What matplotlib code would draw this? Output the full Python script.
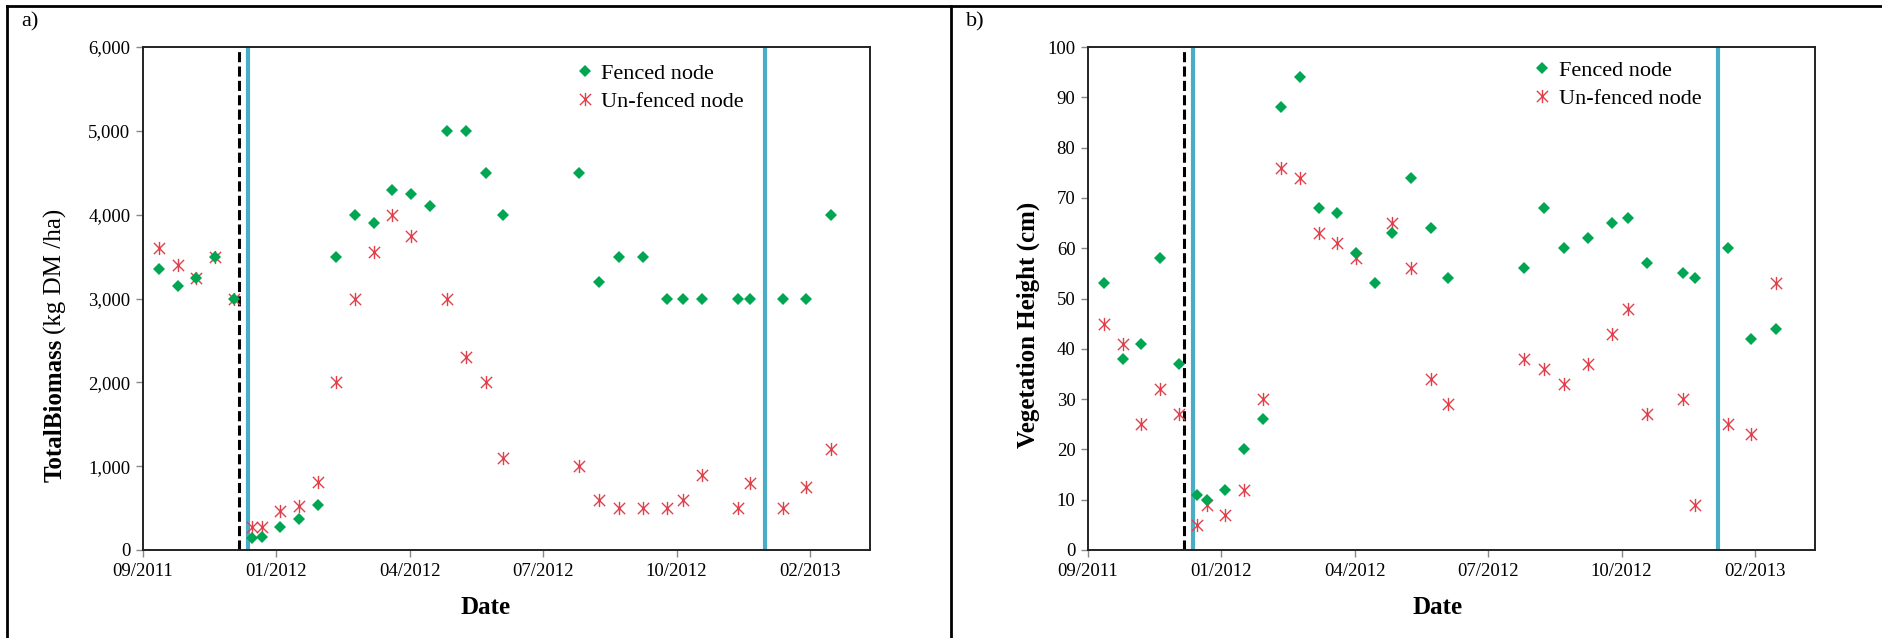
import numpy as np
import pandas as pd
import matplotlib
matplotlib.use('Agg')
import matplotlib.pyplot as plt
import matplotlib.dates as mdates
from matplotlib.path import Path
from matplotlib.lines import Line2D
from matplotlib.ticker import FuncFormatter, MultipleLocator

plt.rcParams['font.family'] = ['Liberation Serif', 'DejaVu Serif']

# 측정 날짜
dates = ['2011-10-07', '2011-10-21', '2011-11-04', '2011-11-18', '2011-12-02',
         '2011-12-16', '2011-12-23', '2012-01-06', '2012-01-20', '2012-02-03',
         '2012-02-17', '2012-03-02', '2012-03-16', '2012-03-30', '2012-04-13',
         '2012-04-27', '2012-05-10', '2012-05-24', '2012-06-08', '2012-06-21',
         '2012-08-17', '2012-09-01', '2012-09-16', '2012-10-04', '2012-10-22',
         '2012-11-03', '2012-11-17', '2012-12-14', '2012-12-23', '2013-01-17',
         '2013-02-03', '2013-02-22']

# a) 총 바이오매스 (kg DM/ha)
biomass_fenced = [3350, 3150, 3250, 3500, 3000, 140, 160, 270, 370, 540,
                  3500, 4000, 3900, 4300, 4250, 4100, 5000, 5000, 4500, 4000,
                  4500, 3200, 3500, 3500, 3000, 3000, 3000, 3000, 3000, 3000,
                  3000, 4000]
biomass_unfenced = [3600, 3400, 3250, 3500, 3000, 280, 280, 470, 520, 810,
                    2000, 3000, 3550, 4000, 3750, np.nan, 3000, 2300, 2000, 1100,
                    1000, 600, 500, 500, 500, 600, 900, 500, 800, 500,
                    750, 1200]

# b) 식생 높이 (cm)
height_fenced = [53, 38, 41, 58, 37, 11, 10, 12, 20, 26,
                 88, 94, 68, 67, 59, 53, 63, 74, 64, 54,
                 56, 68, 60, 62, 65, 66, 57, 55, 54, 60,
                 42, 44]
height_unfenced = [45, 41, 25, 32, 27, 5, 9, 7, 12, 30,
                   76, 74, 63, 61, 58, np.nan, 65, 56, 34, 29,
                   38, 36, 33, 37, 43, 48, 27, 30, 9, 25,
                   23, 53]

# 이벤트 날짜 (점선: 1개, 파란 실선: 2개)
dashed_date = '2011-12-06'
biomass_blue_dates = ['2011-12-13', '2013-01-03']
height_blue_dates = ['2011-12-13', '2013-01-09']

# x축 범위와 눈금 (100일 간격)
x_start, x_end = '2011-09-25', '2013-03-23'
tick_dates = ['2011-09-25', '2012-01-03', '2012-04-12', '2012-07-21',
              '2012-10-29', '2013-02-06']

x = pd.to_datetime(dates)

green = '#00A651'
red = '#E0404A'
blue = '#4BACC6'

# 엑셀 스타일 별표 마커 (X + 세로선)
star = Path([(0, -1), (0, 1), (-0.85, -0.85), (0.85, 0.85), (-0.85, 0.85), (0.85, -0.85)],
            [Path.MOVETO, Path.LINETO, Path.MOVETO, Path.LINETO, Path.MOVETO, Path.LINETO])

W, H = 1883, 638
fig = plt.figure(figsize=(W / 100, H / 100), dpi=100)


def px_box(left, top, right, bottom):
    return [left / W, 1 - bottom / H, (right - left) / W, (bottom - top) / H]


def draw_panel(ax, fenced, unfenced, blue_dates, ymax, ystep, comma):
    ax.axvline(pd.to_datetime(dashed_date), color='black', lw=2.2,
               linestyle=(0, (3.3, 1.4)), zorder=1)
    for d in blue_dates:
        ax.axvline(pd.to_datetime(d), color=blue, lw=3, zorder=1)

    ax.plot(x, unfenced, linestyle='none', marker=star, markersize=9.5,
            markeredgewidth=1.0, color=red, label='Un-fenced node', zorder=3)
    ax.plot(x, fenced, linestyle='none', marker='D', markersize=6,
            color=green, markeredgewidth=0, label='Fenced node', zorder=4)

    ax.set_xlim(pd.to_datetime(x_start), pd.to_datetime(x_end))
    ax.set_xticks(pd.to_datetime(tick_dates))
    ax.xaxis.set_major_formatter(mdates.DateFormatter('%m/%Y'))
    ax.set_ylim(0, ymax)
    ax.yaxis.set_major_locator(MultipleLocator(ystep))
    if comma:
        ax.yaxis.set_major_formatter(FuncFormatter(lambda v, p: f'{int(v):,}'))

    ax.tick_params(axis='both', direction='out', length=5, width=1,
                   color='#888888', labelsize=13.5, pad=4)
    for s in ax.spines.values():
        s.set_color('#222222')
        s.set_linewidth(1.4)

    handles, labels = ax.get_legend_handles_labels()
    return handles[::-1], labels[::-1]


legend_kw = dict(loc='upper left', frameon=False, fontsize=16, handlelength=0.5,
                 handletextpad=0.5, labelspacing=0.35, borderpad=0, borderaxespad=0)

# a) 패널
ax1 = fig.add_axes(px_box(143, 47, 870, 550))
h, l = draw_panel(ax1, biomass_fenced, biomass_unfenced, biomass_blue_dates, 6000, 1000, True)
ax1.legend(h, l, bbox_to_anchor=(0.600, 0.968), **legend_kw)

# b) 패널
ax2 = fig.add_axes(px_box(1088, 47, 1815, 550))
h, l = draw_panel(ax2, height_fenced, height_unfenced, height_blue_dates, 100, 10, False)
ax2.legend(h, l, bbox_to_anchor=(0.617, 0.974), **legend_kw)

# 축 제목
fig.text(486 / W, 1 - 608 / H, 'Date', fontsize=18, fontweight='bold', ha='center', va='center')
fig.text(1438 / W, 1 - 607 / H, 'Date', fontsize=18, fontweight='bold', ha='center', va='center')

# y축 제목: 굵은 글씨 + 보통 글씨를 이어 붙임
bold_part = fig.text(55 / W, 1 - 482 / H, 'TotalBiomass', fontsize=18, fontweight='bold',
                     rotation=90, ha='center', va='bottom')
fig.canvas.draw()
bb = bold_part.get_window_extent().transformed(fig.transFigure.inverted())
fig.text(55 / W, bb.y1 + 5 / H, '(kg DM /ha)', fontsize=18, rotation=90,
         ha='center', va='bottom')
fig.text(1028 / W, 1 - 325 / H, 'Vegetation Height (cm)', fontsize=18, fontweight='bold',
         rotation=90, ha='center', va='center')

# 패널 라벨
fig.text(21 / W, 1 - 22 / H, 'a)', fontsize=16, ha='left', va='center')
fig.text(966 / W, 1 - 22 / H, 'b)', fontsize=16, ha='left', va='center')

# 표 테두리
fig.add_artist(Line2D([7 / W, 1], [1 - 6 / H, 1 - 6 / H], color='black', lw=2,
                      transform=fig.transFigure))
fig.add_artist(Line2D([7 / W, 7 / W], [0, 1 - 6 / H], color='black', lw=2,
                      transform=fig.transFigure))
fig.add_artist(Line2D([951 / W, 951 / W], [0, 1 - 6 / H], color='black', lw=2,
                      transform=fig.transFigure))

fig.savefig('out.png', dpi=100)
